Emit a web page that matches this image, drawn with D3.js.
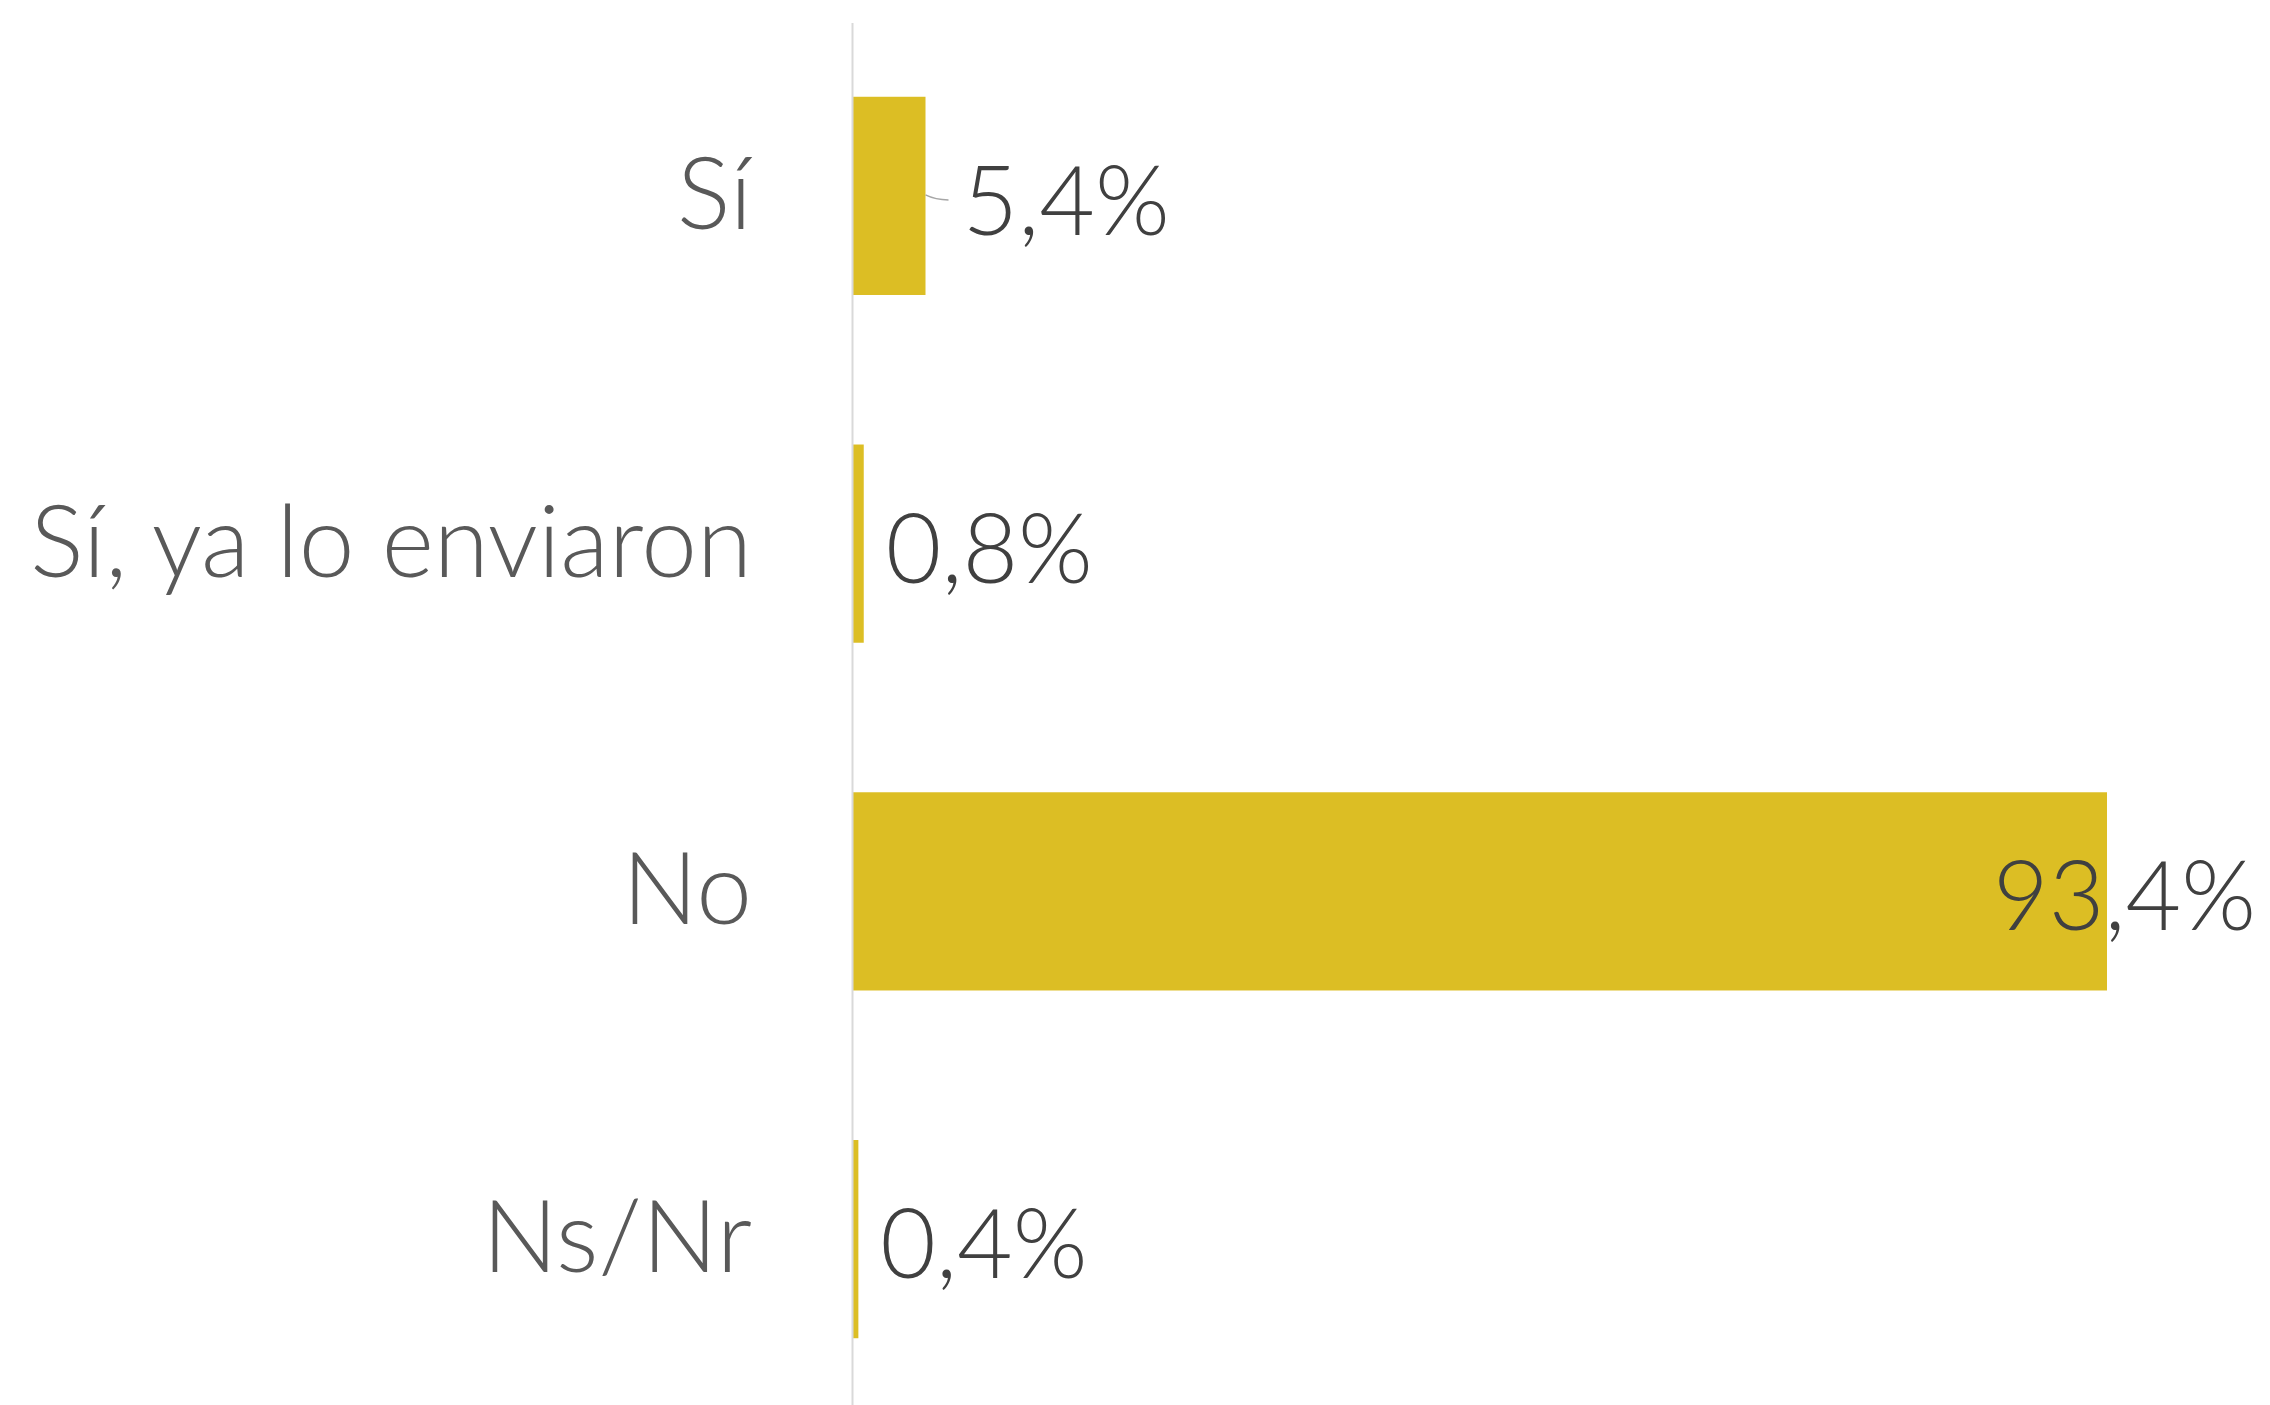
<!DOCTYPE html>
<html>
<head>
<meta charset="utf-8">
<script src="https://cdn.jsdelivr.net/npm/d3@7"></script>
<style>
  body { margin: 0; background: #fff; }
  svg text { font-family: Lato, "Noto Sans", sans-serif; font-weight: 300; }
</style>
</head>
<body>
<script>
// chart data
var categories = ["Sí", "Sí, ya lo enviaron", "No", "Ns/Nr"];
var values = [5.4, 0.8, 93.4, 0.4];
var valueLabels = ["5,4%", "0,8%", "93,4%", "0,4%"];

drawChart();

function drawChart(){

    var width = 2270,
        height = 1405;

    var svg = d3.select("body")
        .append("svg")
        .attr("width", width)
        .attr("height", height);

    //x scale: percent -> pixels, zero at the axis line
    var x = d3.scaleLinear()
        .domain([0, 93.4])
        .range([853, 2107]);

    var y = d3.scaleBand()
        .domain(categories)
        .range([22, 1413])
        .paddingInner(0.43)
        .paddingOuter(0.215);

    //bars
    svg.selectAll(".bar")
        .data(values)
        .enter()
        .append("rect")
        .attr("class", "bar")
        .attr("x", x(0))
        .attr("y", function(d, i){ return y(categories[i]); })
        .attr("width", function(d){ return x(d) - x(0); })
        .attr("height", y.bandwidth())
        .attr("fill", "#dcbe24");

    //vertical axis line
    svg.append("line")
        .attr("x1", x(0) - 0.5)
        .attr("x2", x(0) - 0.5)
        .attr("y1", 23)
        .attr("y2", height)
        .attr("stroke", "#d9d9d9")
        .attr("stroke-width", 2);

    //category labels
    svg.selectAll(".cat")
        .data(categories)
        .enter()
        .append("text")
        .attr("class", "cat")
        .attr("x", 752)
        .attr("y", function(d){ return y(d) + y.bandwidth() / 2 + 33; })
        .attr("text-anchor", "end")
        .attr("font-size", 100)
        .attr("fill", "#595959")
        .text(function(d){ return d; });

    //value labels, pushed back inside the frame when they overflow
    var labels = svg.selectAll(".val")
        .data(values)
        .enter()
        .append("text")
        .attr("class", "val")
        .attr("y", function(d, i){ return y(categories[i]) + y.bandwidth() / 2 + 39; })
        .attr("font-size", 96)
        .attr("fill", "#404040")
        .text(function(d, i){ return valueLabels[i]; });

    labels.each(function(d, i){
        var w = this.getComputedTextLength();
        var gap = (i === 0) ? 37 : 22;
        var lx = Math.min(x(d) + gap, width - 14 - w);
        d3.select(this).attr("x", lx);
        if (gap > 30) {
            //small leader line from the bar to the displaced label
            var cy = y(categories[i]) + y.bandwidth() / 2;
            svg.append("path")
                .attr("d", "M" + x(d) + "," + (cy - 1) + " Q" + (x(d) + 10) + "," + (cy + 4) + " " + (lx - 14) + "," + (cy + 4))
                .attr("fill", "none")
                .attr("stroke", "#a6a6a6")
                .attr("stroke-width", 1.5);
        }
    });
};
</script>
</body>
</html>
